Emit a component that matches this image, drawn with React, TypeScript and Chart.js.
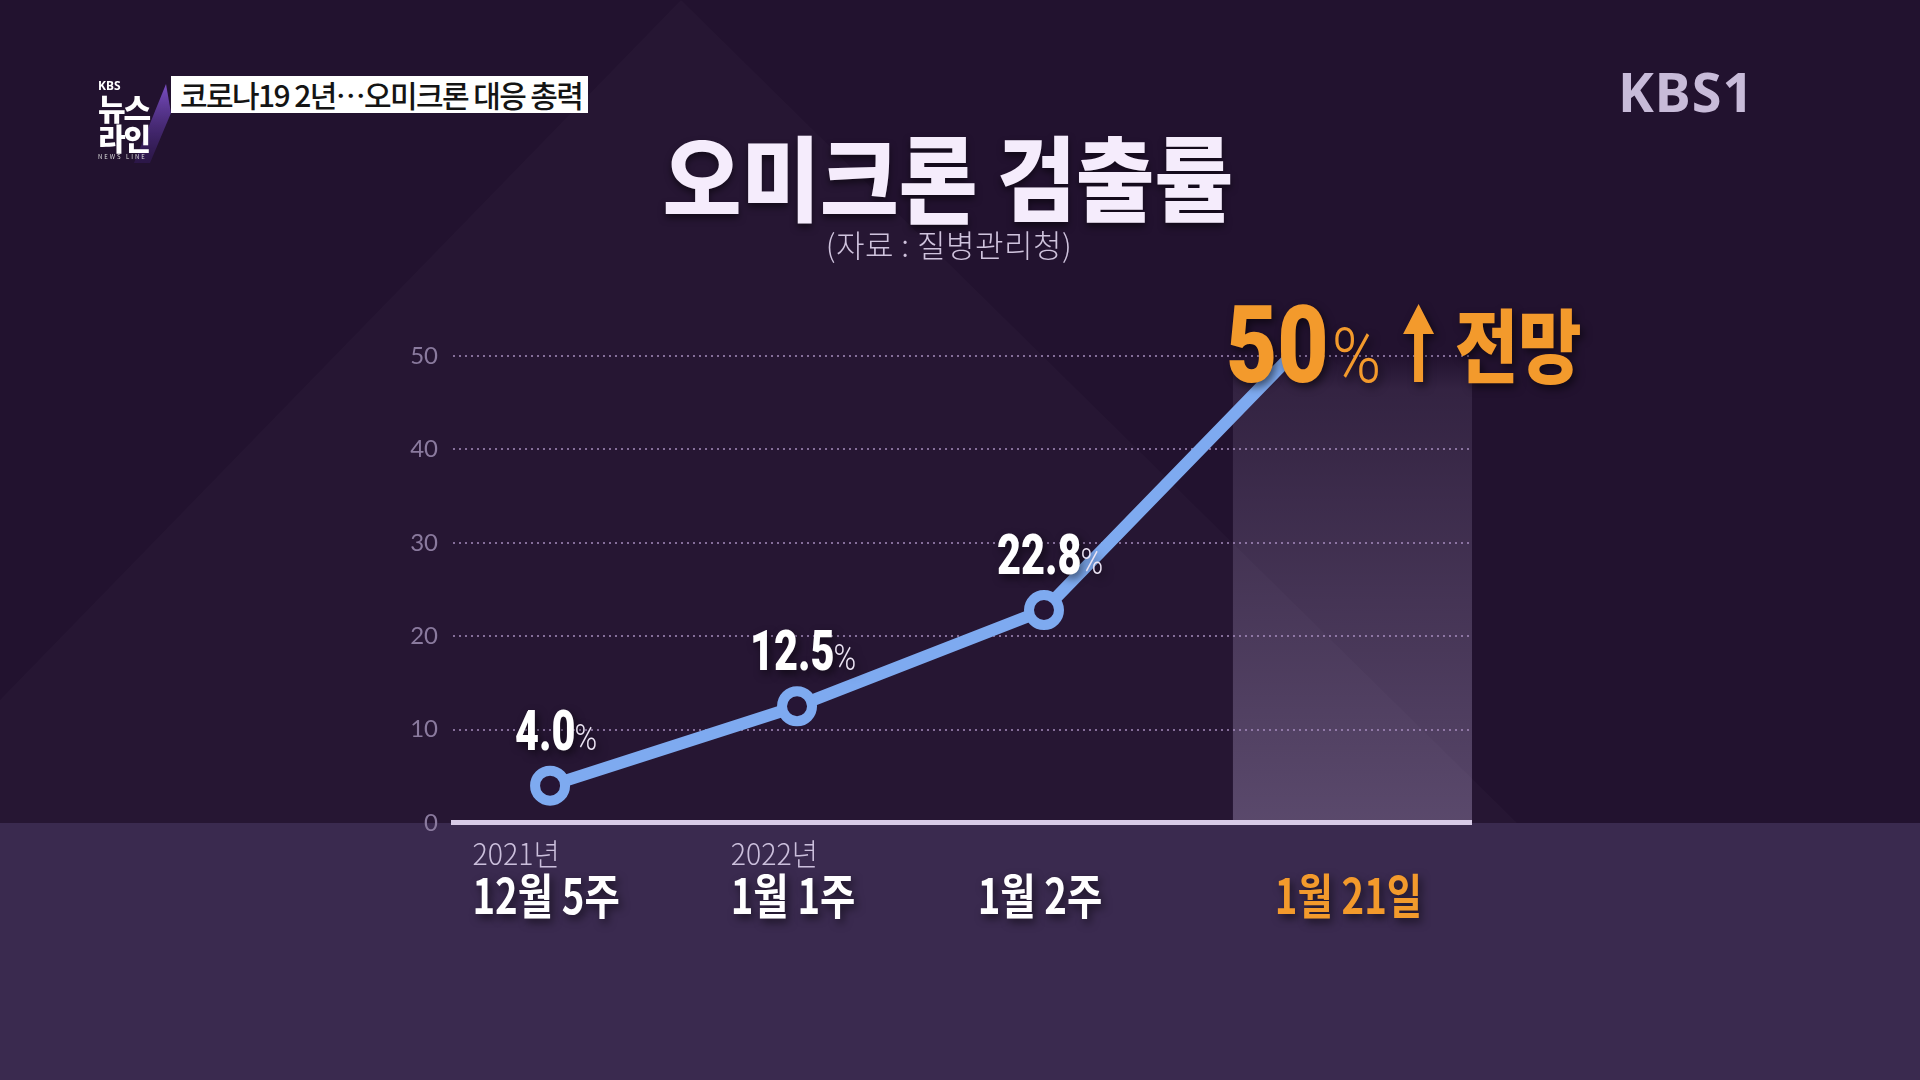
import React, { useEffect, useRef } from 'react';
import { Chart, registerables } from 'chart.js';

Chart.register(...registerables);

// ---- data ----
const categories = ['12월 5주', '1월 1주', '1월 2주', '1월 21일'];
const yearLabels = ['2021년', '2022년', '', ''];
const values = [4.0, 12.5, 22.8, 50];
const valueLabels = ['4.0', '12.5', '22.8', '50'];
const yTicks = [0, 10, 20, 30, 40, 50];
const forecastWord = '전망';
const xRange = [-0.393, 3.733];
const highlightFrom = 2.765;

const KR = "'Noto Sans CJK KR', 'Noto Sans', sans-serif";
const NUM = "Roboto, 'Noto Sans', sans-serif";
const ORANGE = '#f39a2c';
const LINE = '#7eaaf0';

function withShadow(ctx: CanvasRenderingContext2D) {
  ctx.shadowColor = 'rgba(0,0,0,0.55)';
  ctx.shadowBlur = 8;
  ctx.shadowOffsetX = 3;
  ctx.shadowOffsetY = 4;
}

function drawScaled(ctx: CanvasRenderingContext2D, text: string, x: number, y: number, font: string, color: string, sx: number, align: CanvasTextAlign = 'left', shadow = true) {
  ctx.save();
  ctx.font = font;
  ctx.fillStyle = color;
  ctx.textAlign = align;
  ctx.textBaseline = 'alphabetic';
  if (shadow) withShadow(ctx);
  ctx.translate(x, y);
  ctx.scale(sx, 1);
  ctx.fillText(text, 0, 0);
  ctx.restore();
}

function widthOf(ctx: CanvasRenderingContext2D, text: string, font: string, sx: number) {
  ctx.save();
  ctx.font = font;
  const w = ctx.measureText(text).width * sx;
  ctx.restore();
  return w;
}

const backgroundPlugin = {
  id: 'bgPlugin',
  beforeDraw(chart: any) {
    const { ctx, width, height, chartArea, scales } = chart;
    ctx.save();
    ctx.fillStyle = '#22122f';
    ctx.fillRect(0, 0, width, height);
    // soft light beam
    ctx.beginPath();
    ctx.moveTo(681, 0);
    ctx.lineTo(1517, chartArea.bottom);
    ctx.lineTo(0, chartArea.bottom);
    ctx.lineTo(0, 700);
    ctx.closePath();
    ctx.fillStyle = 'rgba(255,255,255,0.02)';
    ctx.fill();
    // bottom band
    ctx.fillStyle = '#3a2a4f';
    ctx.fillRect(0, chartArea.bottom, width, height - chartArea.bottom);
    // forecast column
    const x1 = scales.x.getPixelForValue(highlightFrom);
    const x2 = chartArea.right;
    const g = ctx.createLinearGradient(0, chartArea.top, 0, chartArea.bottom);
    g.addColorStop(0, 'rgba(225,205,255,0)');
    g.addColorStop(0.07, 'rgba(225,205,255,0.09)');
    g.addColorStop(1, 'rgba(225,205,255,0.28)');
    ctx.fillStyle = g;
    ctx.fillRect(x1, chartArea.top, x2 - x1, chartArea.bottom - chartArea.top);
    ctx.restore();
  },
  beforeDatasetsDraw(chart: any) {
    const { ctx, chartArea, scales } = chart;
    const y0 = scales.y.getPixelForValue(0);
    ctx.save();
    ctx.fillStyle = '#d8cbe7';
    ctx.fillRect(chartArea.left - 2, y0 - 3, chartArea.right - chartArea.left + 2, 5);
    ctx.restore();
  },
  afterDatasetsDraw(chart: any) {
    const { ctx, chartArea, scales } = chart;
    const meta = chart.getDatasetMeta(0);
    // value labels
    meta.data.forEach((pt: any, i: number) => {
      if (i >= 3) return;
      const fMain = `900 56px ${NUM}`;
      const fPct = `300 36px ${NUM}`;
      const w1 = widthOf(ctx, valueLabels[i], fMain, 0.74);
      const w2 = widthOf(ctx, '%', fPct, 0.85);
      const gap = -1;
      const total = w1 + gap + w2;
      const sx = pt.x + 6 - total / 2;
      const by = pt.y - 36;
      drawScaled(ctx, valueLabels[i], sx, by, fMain, '#ffffff', 0.74);
      drawScaled(ctx, '%', sx + w1 + gap, by, fPct, '#ece4f4', 0.85);
    });
    // forecast annotation at last point
    const p = meta.data[3];
    const baseY = p.y + 26;
    let x = p.x - 65;
    const f50 = `900 108px ${NUM}`;
    drawScaled(ctx, valueLabels[3], x, baseY, f50, ORANGE, 0.82);
    x += widthOf(ctx, valueLabels[3], f50, 0.82) + 3;
    const fP = `300 76px ${NUM}`;
    drawScaled(ctx, '%', x, baseY, fP, ORANGE, 0.88);
    x += widthOf(ctx, '%', fP, 0.88) + 22;
    const aw = 31;
    const top = baseY - 78;
    const cx = x + aw / 2;
    ctx.save();
    withShadow(ctx);
    ctx.fillStyle = ORANGE;
    ctx.beginPath();
    ctx.moveTo(cx, top);
    ctx.lineTo(x + aw, top + 30);
    ctx.lineTo(cx + 4.5, top + 30);
    ctx.lineTo(cx + 4.5, baseY);
    ctx.lineTo(cx - 4.5, baseY);
    ctx.lineTo(cx - 4.5, top + 30);
    ctx.lineTo(x, top + 30);
    ctx.closePath();
    ctx.fill();
    ctx.restore();
    x += aw + 21;
    drawScaled(ctx, forecastWord, x, baseY - 6, `900 80px ${KR}`, ORANGE, 0.86);

    // x labels
    const colCenter = (scales.x.getPixelForValue(highlightFrom) + chartArea.right) / 2;
    categories.forEach((c, i) => {
      const last = i === categories.length - 1;
      const cxl = last ? colCenter : scales.x.getPixelForValue(i);
      const fMain = `700 48px ${KR}`;
      const w = widthOf(ctx, c, fMain, 0.8);
      const left = cxl - w / 2 - 4;
      drawScaled(ctx, c, left, 914, fMain, last ? ORANGE : '#ffffff', 0.8);
      if (yearLabels[i]) {
        drawScaled(ctx, yearLabels[i], left, 865, `300 30px ${KR}`, '#cbbfdc', 0.95, 'left', false);
      }
    });
  },
};

export default function App() {
  const ref = useRef<HTMLCanvasElement>(null);
  useEffect(() => {
    document.body.style.margin = '0';
    const canvas = ref.current!;
    const chart = new Chart(canvas, {
      type: 'line',
      data: {
        datasets: [
          {
            data: values.map((v, i) => ({ x: i, y: v })),
            borderColor: LINE,
            borderWidth: 12,
            pointRadius: [15, 15, 15, 0],
            pointBorderWidth: 10,
            pointBackgroundColor: '#261535',
            pointBorderColor: LINE,
            tension: 0,
            clip: false as any,
          },
        ],
      },
      options: {
        responsive: false,
        devicePixelRatio: 1,
        animation: false,
        layout: { padding: { left: 373, top: 356, right: 448, bottom: 257 } },
        plugins: { legend: { display: false }, tooltip: { enabled: false } },
        scales: {
          x: { type: 'linear', min: xRange[0], max: xRange[1], display: false },
          y: {
            min: yTicks[0],
            max: yTicks[yTicks.length - 1],
            afterBuildTicks: (scale: any) => {
              scale.ticks = yTicks.map((v) => ({ value: v }));
            },
            afterFit: (scale: any) => {
              scale.width = 80;
            },
            ticks: {
              color: '#8a7a9e',
              padding: 15,
              font: { family: "Lato, 'Noto Sans', sans-serif", size: 24 },
            },
            grid: {
              color: 'rgba(165,140,190,0.75)',
              lineWidth: 2,
              drawTicks: false,
            },
            border: { display: false, dash: [2, 4] },
          },
        },
      },
      plugins: [backgroundPlugin],
    } as any);
    return () => chart.destroy();
  }, []);

  return (
    <div style={{ position: 'absolute', left: 0, top: 0, width: 1920, height: 1080, overflow: 'hidden', background: '#22122f' }}>
      <canvas ref={ref} width={1920} height={1080} style={{ position: 'absolute', left: 0, top: 0, width: 1920, height: 1080 }} />
      {/* news line logo */}
      <svg width={80} height={90} style={{ position: 'absolute', left: 100, top: 78 }}>
        <defs>
          <linearGradient id="wg" x1="0" y1="0" x2="0" y2="1">
            <stop offset="0" stopColor="#7b4fc4" />
            <stop offset="1" stopColor="#3b1f6c" stopOpacity="0.4" />
          </linearGradient>
        </defs>
        <polygon points="66,6 71,35 50,85 34,85" fill="url(#wg)" />
      </svg>
      <div style={{ position: 'absolute', left: 98, top: 80, color: '#fff', fontFamily: KR, lineHeight: 1 }}>
        <div style={{ fontSize: 12, fontWeight: 700, fontFamily: "'Noto Sans', sans-serif" }}>KBS</div>
        <div style={{ fontSize: 30, fontWeight: 900, letterSpacing: -2 }}>뉴스</div>
        <div style={{ fontSize: 30, fontWeight: 900, letterSpacing: -2 }}>라인</div>
        <div style={{ fontSize: 6, letterSpacing: 2, marginTop: 2, color: '#ddd' }}>NEWS LINE</div>
      </div>
      <div style={{ position: 'absolute', left: 171, top: 76, width: 417, height: 37, background: '#ffffff', overflow: 'hidden' }}>
        <div style={{ position: 'absolute', left: 9, top: 0, height: 37, lineHeight: '37px', fontFamily: KR, fontSize: 30, fontWeight: 500, color: '#141414', whiteSpace: 'nowrap', letterSpacing: -1.6 }}>
          코로나19 2년…오미크론 대응 총력
        </div>
      </div>
      {/* KBS1 logo */}
      <div style={{ position: 'absolute', left: 1618, top: 62, fontFamily: "'Noto Sans', sans-serif", fontWeight: 700, fontSize: 54, color: '#c8bbd9', lineHeight: 1.1, letterSpacing: 1 }}>
        KBS1
      </div>
      {/* title */}
      <div style={{ position: 'absolute', left: 0, width: 1896, top: 128, textAlign: 'center', fontFamily: KR, fontWeight: 900, fontSize: 92, lineHeight: 1, color: '#f5ecfc', textShadow: '0 4px 8px rgba(0,0,0,0.5)', whiteSpace: 'nowrap', transform: 'scaleX(0.93)' }}>
        오미크론 검출률
      </div>
      <div style={{ position: 'absolute', left: 0, width: 1898, top: 227, textAlign: 'center', fontFamily: KR, fontWeight: 300, fontSize: 31, lineHeight: 1.1, color: '#cfc3dd', whiteSpace: 'nowrap', letterSpacing: 0.5 }}>
        (자료 : 질병관리청)
      </div>
    </div>
  );
}
